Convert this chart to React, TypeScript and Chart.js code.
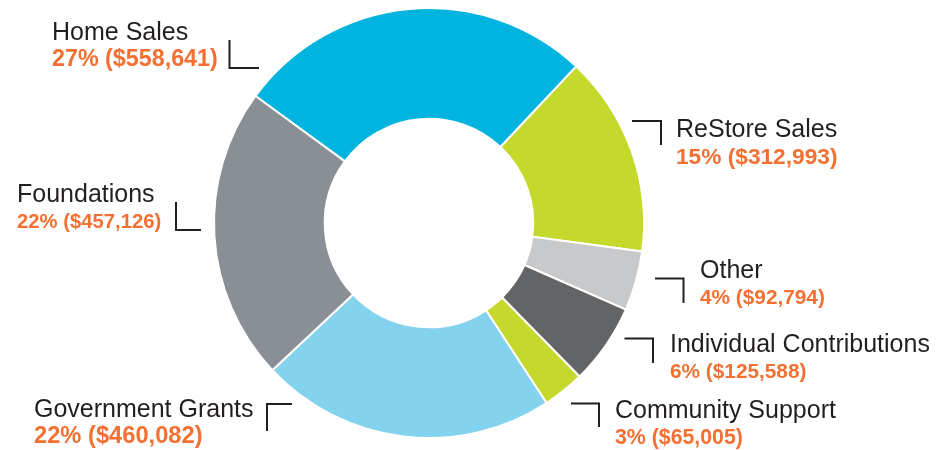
import { useEffect, useRef } from "react";
import { Chart, registerables } from "chart.js";

Chart.register(...registerables);

// ---- data ----
const categories = [
  "Home Sales",
  "ReStore Sales",
  "Other",
  "Individual Contributions",
  "Community Support",
  "Government Grants",
  "Foundations",
];
const amounts = [558641, 312993, 92794, 125588, 65005, 460082, 457126];
const sliceColors = ["#00B4DF", "#C5D92D", "#C8C9CB", "#636466", "#C5D92D", "#84D3EE", "#8A8E95"];

// ---- label layout (canvas pixels): text x, name baseline, value offset/size, bracket polyline ----
const labelLayout = [
  { x: 52, y: 39.5, dy: 26.5, vSize: 23.3, bracket: [[229.5, 40], [229.5, 68], [259, 68]] },
  { x: 676, y: 136.7, dy: 27.3, vSize: 22.7, bracket: [[632, 121], [661, 121], [661, 145]] },
  { x: 700, y: 277.7, dy: 26.6, vSize: 20.8, bracket: [[655, 278.5], [683.5, 278.5], [683.5, 303]] },
  { x: 670, y: 351.7, dy: 26.5, vSize: 20.8, bracket: [[624.5, 338.5], [653, 338.5], [653, 363]] },
  { x: 615, y: 418.3, dy: 25.7, vSize: 21.3, bracket: [[571, 403.5], [599, 403.5], [599, 427]] },
  { x: 34, y: 416.7, dy: 26.6, vSize: 23.7, bracket: [[292, 404], [267, 404], [267, 431]] },
  { x: 17, y: 202.3, dy: 25.5, vSize: 20.3, bracket: [[176, 202], [176, 230], [201, 230]] },
];

const total = amounts.reduce((a, b) => a + b, 0);

const labelPlugin = {
  id: "calloutLabels",
  afterDraw(chart: any) {
    const ctx = chart.ctx as CanvasRenderingContext2D;
    ctx.save();
    categories.forEach((name, i) => {
      const lay = labelLayout[i];
      const pct = Math.round((amounts[i] / total) * 100);
      const valueText = `${pct}% ($${amounts[i].toLocaleString("en-US")})`;
      ctx.textAlign = "left";
      ctx.textBaseline = "alphabetic";
      ctx.font = '25px "Liberation Sans", Arial, sans-serif';
      ctx.fillStyle = "#231F20";
      ctx.fillText(name, lay.x, lay.y);
      ctx.font = `bold ${lay.vSize}px "Liberation Sans", Arial, sans-serif`;
      ctx.fillStyle = "#F37032";
      ctx.fillText(valueText, lay.x, lay.y + lay.dy);

      ctx.beginPath();
      lay.bracket.forEach(([px, py], k) => {
        if (k === 0) ctx.moveTo(px, py);
        else ctx.lineTo(px, py);
      });
      ctx.strokeStyle = "#231F20";
      ctx.lineWidth = 2;
      ctx.stroke();
    });
    ctx.restore();
  },
};

export default function App() {
  const canvasRef = useRef<HTMLCanvasElement | null>(null);

  useEffect(() => {
    const canvas = canvasRef.current;
    if (!canvas) return;
    const chart = new Chart(canvas, {
      type: "doughnut",
      data: {
        labels: categories,
        datasets: [
          {
            data: amounts,
            backgroundColor: sliceColors,
            borderColor: "#FFFFFF",
            borderWidth: 2,
          },
        ],
      },
      options: {
        responsive: false,
        animation: false,
        rotation: -53.8,
        cutout: "48.5%",
        layout: { padding: { left: 213, right: 307, top: 7, bottom: 11 } },
        plugins: {
          legend: { display: false },
          tooltip: { enabled: false },
        },
      },
      plugins: [labelPlugin],
    });
    return () => chart.destroy();
  }, []);

  return (
    <canvas
      ref={canvasRef}
      width={952}
      height={450}
      style={{ position: "absolute", left: 0, top: 0, width: 952, height: 450, display: "block" }}
    />
  );
}
